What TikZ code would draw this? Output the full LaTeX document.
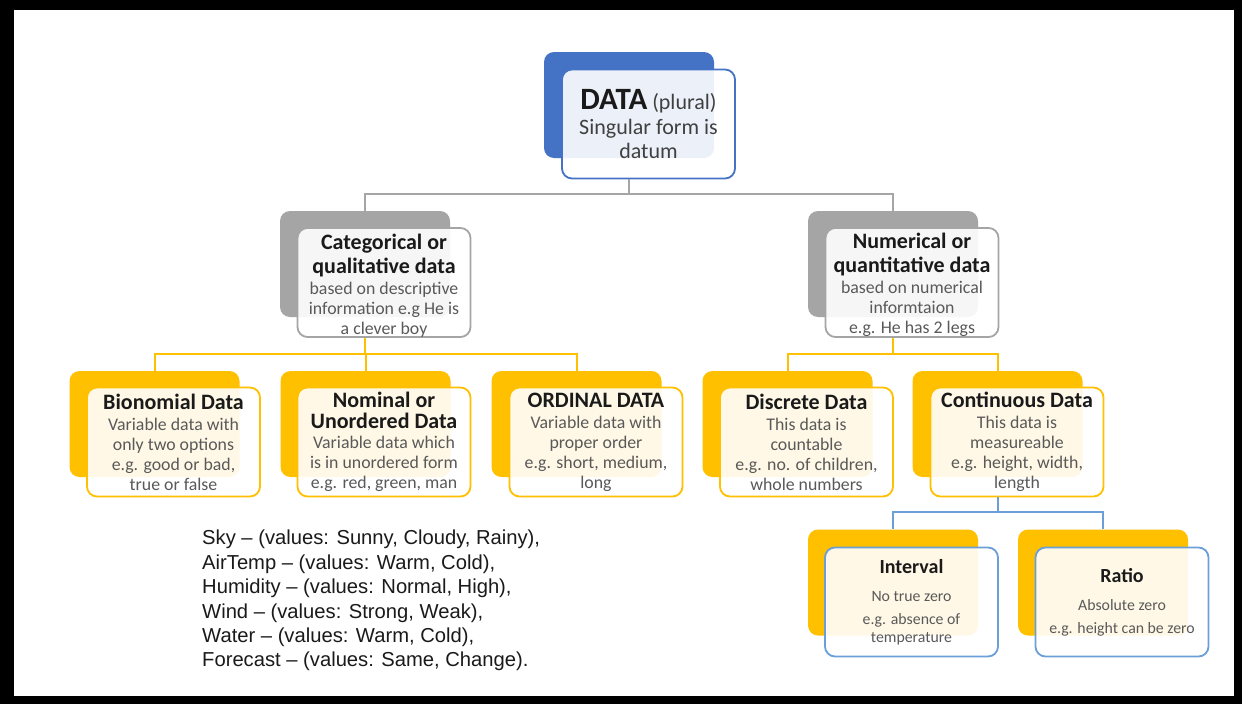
\documentclass[tikz,border=0pt]{standalone}
\usepackage{fontspec}
\setmainfont{Carlito}
\newfontfamily\arialfont{Liberation Sans}
\definecolor{datablue}{HTML}{4472C4}
\definecolor{catgray}{HTML}{A5A5A5}
\definecolor{typeyellow}{HTML}{FFC000}
\definecolor{scaleblue}{HTML}{6A9FD8}
\definecolor{titletext}{HTML}{1A1A1A}
\definecolor{bodytext}{HTML}{595959}
\definecolor{datatext}{HTML}{404040}
\newcommand\bodyfont{\fontsize{17.8}{20}\selectfont}
\newcommand\smallbodyfont{\fontsize{15.8}{18}\selectfont}
\newcommand\boxtitle[1]{{\fontsize{22}{24}\selectfont\bfseries\color{titletext}#1}}
\newcommand\smalltitle[1]{{\fontsize{20}{22}\selectfont\bfseries\color{titletext}#1}}
\begin{document}
\begin{tikzpicture}[x=1pt, y=-1pt,
    backbox/.style={rounded corners=10pt, minimum width=170pt, minimum height=106pt, inner sep=0pt},
    frontbox/.style={rounded corners=10pt, draw, line width=1.8pt, fill=white, fill opacity=0.9, text opacity=1,
      minimum width=173pt, minimum height=109pt, inner sep=0pt, align=center, font=\bodyfont, text=bodytext},
    link/.style={line width=2pt}]
  % slide
  \fill[black] (0,0) rectangle (1242,704);
  \fill[white] (14,10) rectangle (1234,696);

  % top
  \node[backbox, fill=datablue] (data-b) at (629,105) {};
  \node[frontbox, draw=datablue, font=\fontsize{22}{24}\selectfont, text=datatext] (data) at (648.5,124)
    {{\fontsize{31}{32}\selectfont\bfseries\color{titletext}DATA} (plural)\\[1pt]Singular form is\\datum};

  % second level
  \node[backbox, fill=catgray] (cat-b) at (365,264) {};
  \node[frontbox, draw=catgray] (cat) at (384,282.5)
    {\rule{0pt}{21pt}\boxtitle{Categorical or}\\[4pt]\boxtitle{qualitative data}\\[1pt]based on descriptive\\information e.g He is\\a clever boy};
  \node[backbox, fill=catgray] (num-b) at (893,264) {};
  \node[frontbox, draw=catgray] (num) at (912,282.5)
    {\rule{0pt}{21pt}\boxtitle{Numerical or}\\[4pt]\boxtitle{quantitative data}\\[1pt]based on numerical\\informtaion\\e.g. He has 2 legs};

  % third level
  \node[backbox, fill=typeyellow] (bio-b) at (154.5,424) {};
  \node[frontbox, draw=typeyellow] (bio) at (173.5,442)
    {\boxtitle{Bionomial Data}\\[1pt]Variable data with\\only two options\\e.g. good or bad,\\true or false};
  \node[backbox, fill=typeyellow] (nom-b) at (365.5,424) {};
  \node[frontbox, draw=typeyellow] (nom) at (384,442)
    {\boxtitle{Nominal or}\\[1pt]\boxtitle{Unordered Data}\\Variable data which\\is in unordered form\\e.g. red, green, man};
  \node[backbox, fill=typeyellow] (ord-b) at (576.5,424) {};
  \node[frontbox, draw=typeyellow] (ord) at (596,442)
    {\boxtitle{ORDINAL DATA}\\[1pt]Variable data with\\proper order\\e.g. short, medium,\\long};
  \node[backbox, fill=typeyellow] (dis-b) at (787.5,424) {};
  \node[frontbox, draw=typeyellow] (dis) at (806.5,442)
    {\boxtitle{Discrete Data}\\[1pt]This data is\\countable\\e.g. no. of children,\\whole numbers};
  \node[backbox, fill=typeyellow] (con-b) at (997.5,424) {};
  \node[frontbox, draw=typeyellow] (con) at (1017,442)
    {\boxtitle{Continuous Data}\\[1pt]This data is\\measureable\\e.g. height, width,\\length};

  % fourth level
  \node[backbox, fill=typeyellow] (int-b) at (893,582.5) {};
  \node[frontbox, draw=scaleblue, font=\smallbodyfont] (int) at (911.5,602)
    {\smalltitle{Interval}\\[10pt]No true zero\\[5pt]e.g. absence of\\temperature};
  \node[backbox, fill=typeyellow] (rat-b) at (1103,582.5) {};
  \node[frontbox, draw=scaleblue, font=\smallbodyfont] (rat) at (1122,602)
    {\smalltitle{Ratio}\\[10pt]Absolute zero\\[5pt]e.g. height can be zero};

  % connectors
  \draw[link, catgray] (data.south -| data-b) -- ++(0,15) coordinate (data-j) -| (cat-b.north);
  \draw[link, catgray] (data-j) -| (num-b.north);
  \draw[link, typeyellow] (cat.south -| cat-b) -- ++(0,16) coordinate (cat-j) -| (bio-b.north);
  \draw[link, typeyellow] (cat-j) -| (nom-b.north);
  \draw[link, typeyellow] (cat-j) -| (ord-b.north);
  \draw[link, typeyellow] (num.south -| num-b) -- ++(0,16) coordinate (num-j) -| (dis-b.north);
  \draw[link, typeyellow] (num-j) -| (con-b.north);
  \draw[link, scaleblue] (con.south -| con-b) -- ++(0,15) coordinate (con-j) -| (int-b.north);
  \draw[link, scaleblue] (con-j) -| (rat-b.north);

  % attribute list
  \node[anchor=north west, inner sep=0pt, align=left, font=\arialfont\fontsize{20.2}{24.4}\selectfont, text=titletext] (attrs) at (202,530)
    {Sky – (values: Sunny, Cloudy, Rainy),\\AirTemp – (values: Warm, Cold),\\Humidity – (values: Normal, High),\\Wind – (values: Strong, Weak),\\Water – (values: Warm, Cold),\\Forecast – (values: Same, Change).};
\end{tikzpicture}
\end{document}
